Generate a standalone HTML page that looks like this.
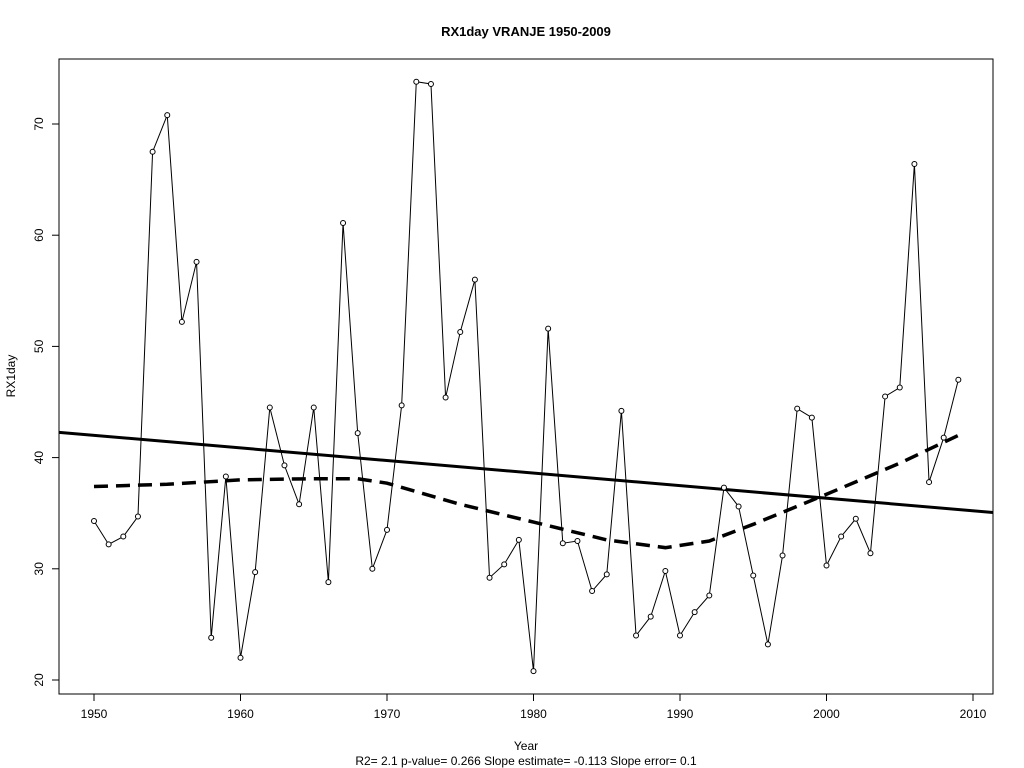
<!DOCTYPE html>
<html><head><meta charset="utf-8"><style>body{margin:0;background:#fff}svg{display:block;font-family:"Liberation Sans",Arial,sans-serif}</style></head>
<body>
<svg id="chart" width="1024" height="768" xmlns="http://www.w3.org/2000/svg">
<rect width="1024" height="768" fill="#fff"/>
<text x="526" y="36" text-anchor="middle" font-size="13" font-weight="bold">RX1day   VRANJE 1950-2009</text>
<rect x="59" y="59" width="934" height="635" fill="none" stroke="#000" stroke-width="1"/>
<g id="xaxis"></g>
<g id="yaxis"></g>
<g id="series"></g>
<text x="526" y="750" text-anchor="middle" font-size="12">Year</text>
<text x="526" y="765" text-anchor="middle" font-size="12">R2= 2.1  p-value= 0.266  Slope estimate= -0.113  Slope error= 0.1</text>
<text transform="translate(15,376) rotate(-90)" text-anchor="middle" font-size="12">RX1day</text>
</svg>
<script>
const years = [];
for (let y = 1950; y <= 2009; y++) years.push(y);
const values = [34.3,32.2,32.9,34.7,67.5,70.8,52.2,57.6,23.8,38.3,22.0,29.7,44.5,39.3,35.8,44.5,28.8,61.1,42.2,30.0,
33.5,44.7,73.8,73.6,45.4,51.3,56.0,29.2,30.4,32.6,20.8,51.6,32.3,32.5,28.0,29.5,44.2,24.0,25.7,29.8,
24.0,26.1,27.6,37.3,35.6,29.4,23.2,31.2,44.4,43.6,30.3,32.9,34.5,31.4,45.5,46.3,66.4,37.8,41.8,47.0];
const loessYears = [1950,1955,1960,1965,1968,1970,1975,1980,1985,1989,1992,1995,2000,2005,2009];
const loessValues = [37.4,37.6,38.0,38.1,38.1,37.7,35.8,34.2,32.6,31.9,32.5,34.0,36.7,39.5,42.0];
const trendIntercept = 42.0;
const trendSlope = -0.113;
const xTicks = [1950,1960,1970,1980,1990,2000,2010];
const yTicks = [20,30,40,50,60,70];

const NS = "http://www.w3.org/2000/svg";
const xs = v => 94 + (v - 1950) * (879 / 60);
const ys = v => 680 - (v - 20) * (556 / 50);
function mk(tag, attrs, parent) { const e = document.createElementNS(NS, tag); for (const k in attrs) e.setAttribute(k, attrs[k]); parent.appendChild(e); return e; }

const xa = document.getElementById('xaxis');
mk('line', {x1: xs(1950), x2: xs(2010), y1: 694, y2: 694, stroke: '#000'}, xa);
xTicks.forEach(t => {
  const l = mk('line', {x1: xs(t), x2: xs(t), y1: 694, y2: 701, stroke: '#000'}, xa);
  
  
  const tx = mk('text', {x: xs(t), y: 718, 'text-anchor': 'middle', 'font-size': 12}, xa);
  
  
  tx.textContent = t;
});
const ya = document.getElementById('yaxis');
mk('line', {x1: 59, x2: 59, y1: ys(20), y2: ys(70), stroke: '#000'}, ya);
yTicks.forEach(t => {
  const l = mk('line', {x1: 52, x2: 59, y1: ys(t), y2: ys(t), stroke: '#000'}, ya);
  
  
  const tx = mk('text', {transform: `translate(43,${ys(t)}) rotate(-90)`, 'text-anchor': 'middle', 'font-size': 12}, ya);
  
  
  tx.textContent = t;
});

const sg = document.getElementById('series');
const tl = mk('line', {x1: 59, y1: ys(trendIntercept + trendSlope * (1947.6 - 1950)), x2: 993, y2: ys(trendIntercept + trendSlope * (2011.4 - 1950)), stroke: '#000', 'stroke-width': 3}, sg);


const lp = mk('polyline', {points: loessYears.map((y, i) => xs(y) + ',' + ys(loessValues[i])).join(' '), fill: 'none', stroke: '#000', 'stroke-width': 3.5, 'stroke-dasharray': '14 8'}, sg);


const dl = mk('polyline', {points: years.map((y, i) => xs(y) + ',' + ys(values[i])).join(' '), fill: 'none', stroke: '#000', 'stroke-width': 1}, sg);


years.forEach((y, i) => {
  const c = mk('circle', {cx: xs(y), cy: ys(values[i]), r: 2.5, fill: '#fff', stroke: '#000', 'stroke-width': 1}, sg);
  
  
});
</script>
</body></html>
